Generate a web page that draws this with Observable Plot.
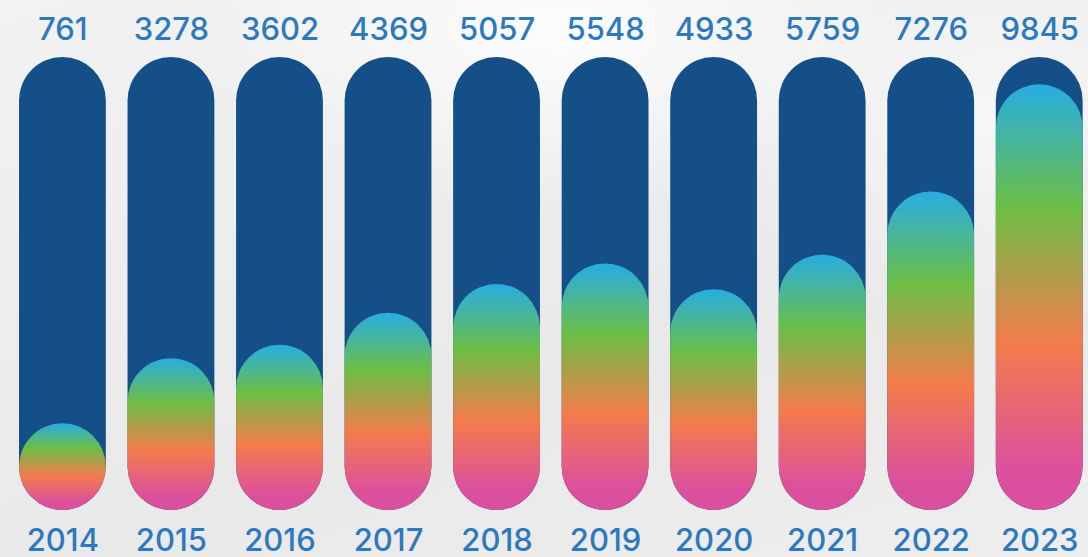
<!DOCTYPE html>
<html>
<head>
<meta charset="utf-8">
<script src="https://cdn.jsdelivr.net/npm/d3@7"></script>
<script src="https://cdn.jsdelivr.net/npm/@observablehq/plot@0.6"></script>
<style>
  html, body { margin: 0; padding: 0; }
  body { width: 1088px; height: 557px; overflow: hidden; background: #ececec; }
  #chart {
    position: relative; width: 1088px; height: 557px;
    background:
      radial-gradient(ellipse 520px 260px at 560px 30px, rgba(255,255,255,0.85), rgba(255,255,255,0) 70%),
      radial-gradient(ellipse 400px 300px at 1000px 120px, rgba(255,255,255,0.6), rgba(255,255,255,0) 70%),
      linear-gradient(160deg, #f2f2f2 0%, #e9e9e9 60%, #eeeeee 100%);
  }
  #chart svg { display: block; }
</style>
</head>
<body>
<div id="chart"></div>
<script>
const years  = ["2014", "2015", "2016", "2017", "2018", "2019", "2020", "2021", "2022", "2023"];
const values = [761, 3278, 3602, 4369, 5057, 5548, 4933, 5759, 7276, 9845];

const yBase = -360;   // bottom of the scale (pill bottom)
const yTrack = 10500; // top of the dark track

const trackColor = "#144f87";
const textColor = "#2d79be";
const gradStops = [
  [0, "#da4f9f"],
  [0.1, "#dc519c"],
  [0.39, "#f47b4c"],
  [0.71, "#6dbe45"],
  [1, "#27ade3"]
];

const data = years.map((year, i) => ({year, value: values[i]}));

const chart = Plot.plot({
  width: 1088,
  height: 557,
  margin: 0,
  style: {background: "transparent", fontFamily: "Inter, 'Open Sans', sans-serif", overflow: "visible"},
  x: {type: "band", domain: years, range: [8.15, 1093.5], paddingInner: 0.2, paddingOuter: 0.1, round: false, axis: null},
  y: {domain: [yBase, yTrack], range: [510, 57], axis: null},
  marks: [
    Plot.barY(data, {x: "year", y1: yBase, y2: yTrack, fill: trackColor, rx: 43.5}),
    Plot.barY(data, {x: "year", y1: yBase, y2: "value", fill: "url(#fillGrad)", rx: 43.5}),
    Plot.text(data, {x: "year", text: d => String(d.value), frameAnchor: "top", lineAnchor: "top", dy: 17,
      fill: textColor, fontSize: 31, fontWeight: 500}),
    Plot.text(data, {x: "year", text: "year", frameAnchor: "bottom", lineAnchor: "bottom", dy: -7,
      fill: textColor, fontSize: 31, fontWeight: 500})
  ]
});

const svg = d3.select(chart);
const grad = svg.insert("defs", ":first-child")
  .append("linearGradient")
  .attr("id", "fillGrad")
  .attr("x1", 0).attr("y1", 1).attr("x2", 0).attr("y2", 0);
gradStops.forEach(([o, c]) => grad.append("stop").attr("offset", o).attr("stop-color", c));

// pills are never shorter than they are wide
const barGroups = svg.selectAll("g[aria-label='bar']").nodes();
if (barGroups.length > 1) {
  d3.select(barGroups[1]).selectAll("rect").each(function() {
    const r = d3.select(this);
    const h = +r.attr("height"), w = +r.attr("width"), y = +r.attr("y");
    if (h < w) { r.attr("y", y + h - w).attr("height", w); }
  });
}

document.getElementById("chart").appendChild(chart);
</script>
</body>
</html>
